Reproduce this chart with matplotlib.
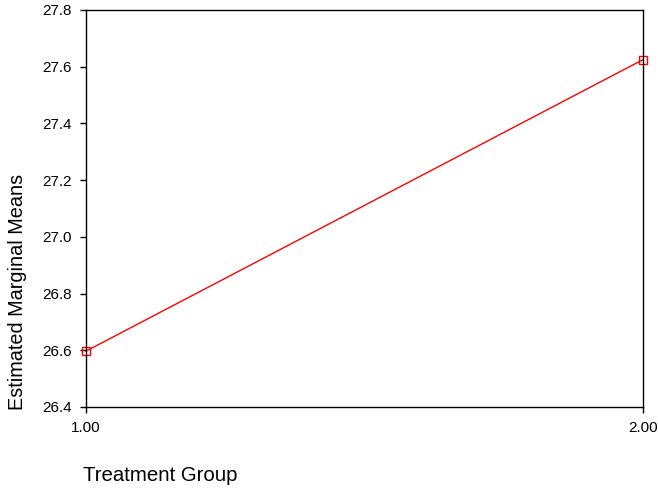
import matplotlib
matplotlib.use("Agg")
import matplotlib.pyplot as plt

plt.rcParams['font.family'] = ['Liberation Sans', 'DejaVu Sans']

groups = [1.0, 2.0]
group_labels = ['1.00', '2.00']
means = [26.597, 27.625]
y_ticks = [26.4, 26.6, 26.8, 27.0, 27.2, 27.4, 27.6, 27.8]

fig = plt.figure(figsize=(6.58, 4.9), dpi=100)
ax = fig.add_axes([86 / 658, 1 - 407 / 490, (643 - 86) / 658, (407 - 10) / 490])

ax.plot(groups, means, color='red', linewidth=1, marker='s', markersize=6,
        markerfacecolor='none', markeredgecolor='red', markeredgewidth=1, clip_on=False)

ax.set_xlim(1.0, 2.0)
ax.set_ylim(26.4, 27.8)
ax.set_xticks(groups)
ax.set_xticklabels(group_labels)
ax.set_yticks(y_ticks)
ax.set_yticklabels([f'{v:.1f}' for v in y_ticks])
ax.tick_params(labelsize=11, length=4, width=1, color='black')
ax.tick_params(axis='y', pad=6)
ax.tick_params(axis='x', pad=6)
for s in ax.spines.values():
    s.set_linewidth(1)

fig.text(18 / 658, 1 - 292 / 490, 'Estimated Marginal Means', rotation=90,
         ha='center', va='center', fontsize=14.3)
fig.text(83 / 658, 1 - 475 / 490, 'Treatment Group', ha='left', va='center', fontsize=14.7)

fig.savefig('out.png', dpi=100)
